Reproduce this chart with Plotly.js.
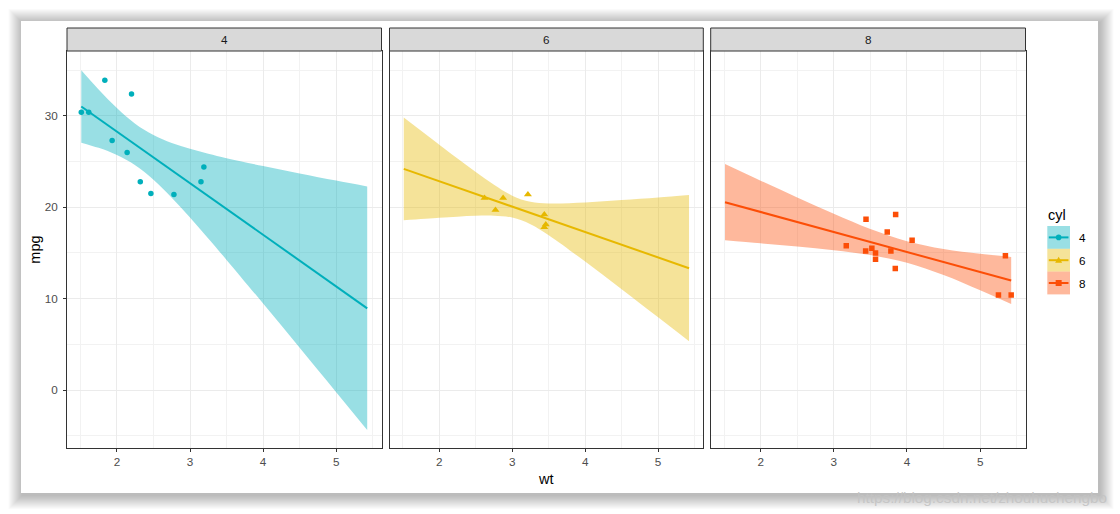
<!DOCTYPE html>
<html>
<head>
<meta charset="utf-8">
<script src="https://cdn.plot.ly/plotly-3.0.1.min.js"></script>
<style>html,body{margin:0;padding:0;background:#fff;}#chart{width:1120px;height:514px;}</style>
</head>
<body>
<div id="chart"></div>
<script>
// ---- data (mtcars wt vs mpg by cyl) ----
const cylLevels = ['4', '6', '8'];
const wt4 = [2.320, 3.190, 3.150, 2.200, 1.615, 1.835, 2.465, 1.935, 2.140, 1.513, 2.780];
const mpg4 = [22.8, 24.4, 22.8, 32.4, 30.4, 33.9, 21.5, 27.3, 26.0, 30.4, 21.4];
const wt6 = [2.620, 2.875, 3.215, 3.460, 3.440, 3.440, 2.770];
const mpg6 = [21.0, 21.0, 21.4, 18.1, 19.2, 17.8, 19.7];
const wt8 = [3.440, 3.570, 4.070, 3.730, 3.780, 5.250, 5.424, 5.345, 3.520, 3.435, 3.840, 3.845, 3.170, 3.570];
const mpg8 = [18.7, 14.3, 16.4, 17.3, 15.2, 10.4, 10.4, 14.7, 15.5, 15.2, 13.3, 19.2, 15.8, 15.0];

// fitted lines and 95% bands, read along wt
const gx4 = [1.513, 1.75, 2.0, 2.25, 2.5, 2.75, 3.0, 3.25, 3.5, 4.0, 4.5, 5.0, 5.424];
const fit4 = [31.03, 29.69, 28.28, 26.87, 25.45, 24.04, 22.63, 21.22, 19.81, 16.98, 14.16, 11.34, 8.94];
const lo4 = [27.07, 26.50, 25.71, 24.59, 23.01, 21.05, 18.88, 16.59, 14.24, 9.46, 4.62, -0.25, -4.39];
const hi4 = [34.98, 32.88, 30.85, 29.14, 27.90, 27.03, 26.39, 25.85, 25.37, 24.51, 23.70, 22.92, 22.27];

const gx6 = [1.513, 2.0, 2.25, 2.5, 2.75, 3.0, 3.25, 3.5, 4.0, 4.5, 5.0, 5.424];
const fit6 = [24.20, 22.85, 22.15, 21.46, 20.76, 20.07, 19.37, 18.68, 17.29, 15.90, 14.51, 13.33];
const lo6 = [18.58, 18.85, 18.97, 19.06, 19.07, 18.87, 18.15, 16.94, 14.05, 11.02, 7.95, 5.33];
const hi6 = [29.82, 26.85, 25.34, 23.86, 22.46, 21.27, 20.59, 20.41, 20.52, 20.78, 21.07, 21.33];

const gx8 = [1.513, 2.0, 2.5, 3.0, 3.5, 4.0, 4.5, 5.0, 5.424];
const fit8 = [20.55, 19.48, 18.39, 17.29, 16.20, 15.10, 14.00, 12.91, 11.98];
const lo8 = [16.38, 16.05, 15.70, 15.30, 14.77, 13.92, 12.58, 10.91, 9.40];
const hi8 = [24.73, 22.91, 21.08, 19.29, 17.62, 16.28, 15.43, 14.91, 14.56];

const xTicks = [2, 3, 4, 5];
const xMinor = [1.5, 2.5, 3.5, 4.5, 5.5];
const yTicks = [0, 10, 20, 30];
const yMinor = [-5, 5, 15, 25, 35];

// ---- styling ----
const W = 1120, H = 514;
const px = v => v / W;
const py = v => 1 - v / H;
const colors = ['#00AFBB', '#E7B800', '#FC4E07'];
const fills = ['rgba(0,175,187,0.4)', 'rgba(231,184,0,0.4)', 'rgba(252,78,7,0.4)'];
const symbols = ['circle', 'triangle-up', 'square'];
const msize = [5.5, 7, 5.5];
const FONT = 'Liberation Sans, Arial, sans-serif';

const panelsX = [[67, 381.5], [389.5, 703.3], [710.7, 1025.5]];
const panelTop = 51, panelBot = 448.3, stripTop = 28;

const groups = [
  {wt: wt4, mpg: mpg4, gx: gx4, fit: fit4, lo: lo4, hi: hi4},
  {wt: wt6, mpg: mpg6, gx: gx6, fit: fit6, lo: lo6, hi: hi6},
  {wt: wt8, mpg: mpg8, gx: gx8, fit: fit8, lo: lo8, hi: hi8}
];

const traces = [];
groups.forEach((g, i) => {
  const xa = i === 0 ? 'x' : 'x' + (i + 1);
  const ya = i === 0 ? 'y' : 'y' + (i + 1);
  traces.push({x: g.wt, y: g.mpg, xaxis: xa, yaxis: ya, type: 'scatter', mode: 'markers',
    marker: {color: colors[i], symbol: symbols[i], size: msize[i], line: {width: 0}},
    showlegend: false, hoverinfo: 'skip'});
  traces.push({x: g.gx, y: g.lo, xaxis: xa, yaxis: ya, type: 'scatter', mode: 'lines',
    line: {width: 0, shape: 'spline', color: 'rgba(0,0,0,0)'}, showlegend: false, hoverinfo: 'skip'});
  traces.push({x: g.gx, y: g.hi, xaxis: xa, yaxis: ya, type: 'scatter', mode: 'lines', fill: 'tonexty',
    fillcolor: fills[i], line: {width: 0, shape: 'spline', color: 'rgba(0,0,0,0)'}, showlegend: false, hoverinfo: 'skip'});
  traces.push({x: g.gx, y: g.fit, xaxis: xa, yaxis: ya, type: 'scatter', mode: 'lines',
    line: {width: 2, color: colors[i]}, showlegend: false, hoverinfo: 'skip'});
});

const xRange = [1.3175, 5.6195];
const yRange = [-6.38, 37.1];

function xaxis(i) {
  return {
    domain: [px(panelsX[i][0]), px(panelsX[i][1])], anchor: i === 0 ? 'y' : 'y' + (i + 1),
    range: xRange, tickmode: 'array', tickvals: xTicks, ticktext: xTicks.map(String),
    showgrid: true, gridcolor: '#ebebeb', gridwidth: 1,
    minor: {tickmode: 'array', tickvals: xMinor, showgrid: true, gridcolor: '#f2f2f2', gridwidth: 1, ticks: ''},
    zeroline: false, showline: true, mirror: true, linecolor: '#333333', linewidth: 1,
    ticks: 'outside', ticklen: 3, tickcolor: '#333333', tickwidth: 1,
    tickfont: {family: FONT, size: 11.7, color: '#4d4d4d'}, fixedrange: true
  };
}
function yaxis(i) {
  return {
    domain: [py(panelBot), py(panelTop)], anchor: i === 0 ? 'x' : 'x' + (i + 1),
    range: yRange, tickmode: 'array', tickvals: yTicks, ticktext: yTicks.map(String),
    showgrid: true, gridcolor: '#ebebeb', gridwidth: 1,
    minor: {tickmode: 'array', tickvals: yMinor, showgrid: true, gridcolor: '#f2f2f2', gridwidth: 1, ticks: ''},
    zeroline: false, showline: true, mirror: true, linecolor: '#333333', linewidth: 1,
    ticks: i === 0 ? 'outside' : '', ticklen: 3, tickcolor: '#333333', tickwidth: 1,
    showticklabels: i === 0, ticklabelstandoff: 3,
    tickfont: {family: FONT, size: 11.7, color: '#4d4d4d'}, fixedrange: true
  };
}

const shapes = [];
// soft drop shadow of the framed image
for (let k = 14; k >= 1; k--) {
  const e = k * 1.0;
  shapes.push({type: 'rect', xref: 'paper', yref: 'paper', layer: 'below',
    x0: px(21 - e + 1.5), x1: px(1098 + e + 1.5), y0: py(493 + e + 2), y1: py(21 - e + 2),
    fillcolor: 'rgba(0,0,0,0.02)', line: {width: 0}});
}
shapes.push({type: 'rect', xref: 'paper', yref: 'paper', layer: 'below',
  x0: px(21), x1: px(1098), y0: py(493), y1: py(21), fillcolor: '#ffffff', line: {width: 0}});

const annotations = [];
// facet strips
panelsX.forEach((p, i) => {
  shapes.push({type: 'rect', xref: 'paper', yref: 'paper', layer: 'above',
    x0: px(p[0]), x1: px(p[1]), y0: py(panelTop), y1: py(stripTop),
    fillcolor: '#d9d9d9', line: {color: '#333333', width: 1}});
  annotations.push({xref: 'paper', yref: 'paper', x: px((p[0] + p[1]) / 2), y: py((panelTop + stripTop) / 2),
    text: cylLevels[i], showarrow: false, xanchor: 'center', yanchor: 'middle',
    font: {family: FONT, size: 11.7, color: '#1a1a1a'}});
});

// axis titles
annotations.push({xref: 'paper', yref: 'paper', x: px(546), y: py(479), text: 'wt', showarrow: false,
  xanchor: 'center', yanchor: 'middle', font: {family: FONT, size: 14.5, color: '#000000'}});
annotations.push({xref: 'paper', yref: 'paper', x: px(35), y: py(249.7), text: 'mpg', showarrow: false, textangle: -90,
  xanchor: 'center', yanchor: 'middle', font: {family: FONT, size: 14.5, color: '#000000'}});

// legend
annotations.push({xref: 'paper', yref: 'paper', x: px(1046), y: py(215), text: 'cyl', showarrow: false,
  xanchor: 'left', yanchor: 'middle', font: {family: FONT, size: 14.5, color: '#000000'}});
const keyX0 = 1047.3, keyX1 = 1070, keyTop = 226, keyH = 22.8;
cylLevels.forEach((lab, i) => {
  const t = keyTop + i * keyH, b = t + keyH, cy = (t + b) / 2, cx = (keyX0 + keyX1) / 2;
  shapes.push({type: 'rect', xref: 'paper', yref: 'paper', layer: 'above',
    x0: px(keyX0), x1: px(keyX1), y0: py(b), y1: py(t), fillcolor: fills[i], line: {width: 0}});
  shapes.push({type: 'line', xref: 'paper', yref: 'paper', layer: 'above',
    x0: px(keyX0 + 1.5), x1: px(keyX1 - 1.5), y0: py(cy), y1: py(cy), line: {color: colors[i], width: 2}});
  if (i === 0) {
    shapes.push({type: 'circle', xref: 'paper', yref: 'paper', layer: 'above',
      x0: px(cx - 2.8), x1: px(cx + 2.8), y0: py(cy + 2.8), y1: py(cy - 2.8), fillcolor: colors[i], line: {width: 0}});
  } else if (i === 1) {
    shapes.push({type: 'path', xref: 'paper', yref: 'paper', layer: 'above',
      path: `M ${px(cx - 3.5)} ${py(cy + 2.6)} L ${px(cx + 3.5)} ${py(cy + 2.6)} L ${px(cx)} ${py(cy - 3.4)} Z`,
      fillcolor: colors[i], line: {width: 0}});
  } else {
    shapes.push({type: 'rect', xref: 'paper', yref: 'paper', layer: 'above',
      x0: px(cx - 3), x1: px(cx + 3), y0: py(cy + 3), y1: py(cy - 3), fillcolor: colors[i], line: {width: 0}});
  }
  annotations.push({xref: 'paper', yref: 'paper', x: px(1077), y: py(cy), text: lab, showarrow: false,
    xanchor: 'left', yanchor: 'middle', font: {family: FONT, size: 11.7, color: '#000000'}});
});

// watermark
annotations.push({xref: 'paper', yref: 'paper', x: px(1109), y: py(497), text: 'https://blog.csdn.net/zhouhuchengbo',
  showarrow: false, xanchor: 'right', yanchor: 'middle', font: {family: FONT, size: 15.3, color: 'rgba(195,195,195,0.9)'}});

const layout = {
  width: W, height: H, margin: {l: 0, r: 0, t: 0, b: 0, pad: 0},
  paper_bgcolor: '#ffffff', plot_bgcolor: 'rgba(0,0,0,0)', showlegend: false,
  xaxis: xaxis(0), xaxis2: xaxis(1), xaxis3: xaxis(2),
  yaxis: yaxis(0), yaxis2: yaxis(1), yaxis3: yaxis(2),
  shapes: shapes, annotations: annotations
};

Plotly.newPlot('chart', traces, layout, {staticPlot: true, displayModeBar: false});
</script>
</body>
</html>
